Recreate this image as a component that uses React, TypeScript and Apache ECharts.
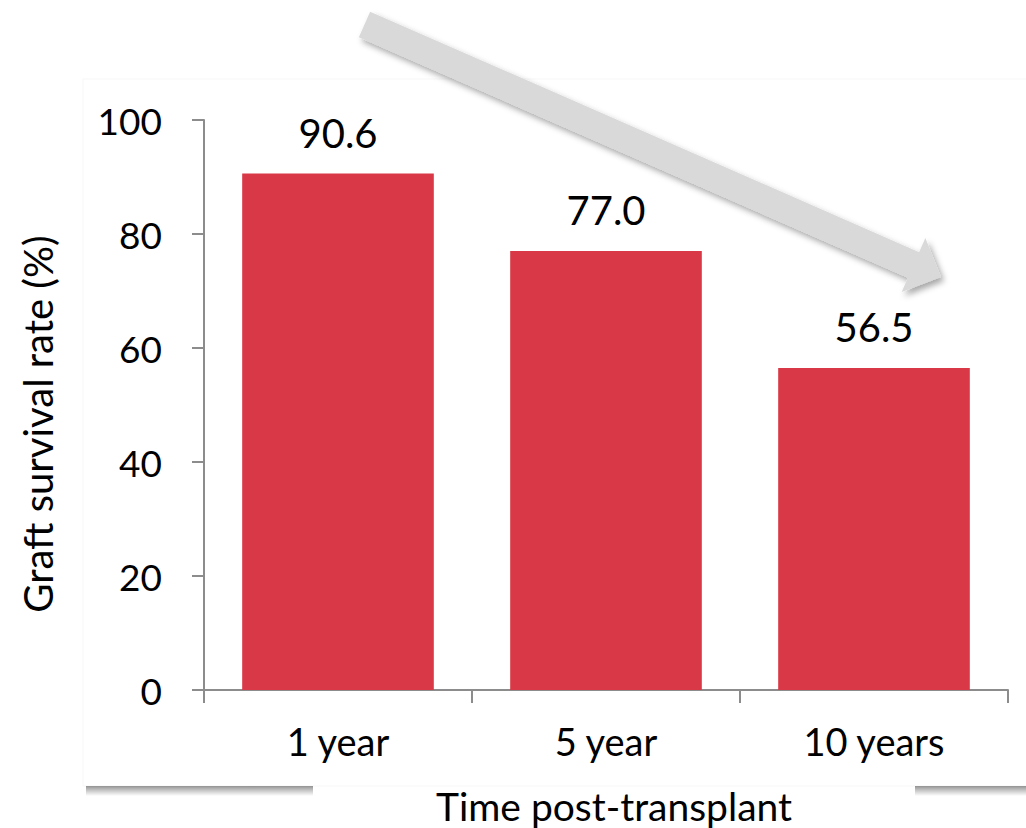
import React, { useEffect, useRef } from "react";
import * as echarts from "echarts";

// Graft survival by time after transplant
const categories: string[] = ["1 year", "5 year", "10 years"];
const survivalRates: number[] = [90.6, 77.0, 56.5];
const yTicks = { min: 0, max: 100, interval: 20 };

const BAR_COLOR = "#d93846";
const AXIS_COLOR = "#8c8c8c";
const FONT = "Lato";

// Build the downward trend arrow as a polygon from tail to tip
function arrowPoints(
  tail: [number, number],
  tip: [number, number],
  shaftHalf: number,
  headHalf: number,
  headLen: number
): number[][] {
  const dx = tip[0] - tail[0];
  const dy = tip[1] - tail[1];
  const len = Math.hypot(dx, dy);
  const ux = dx / len;
  const uy = dy / len;
  const nx = -uy;
  const ny = ux;
  const bx = tip[0] - ux * headLen;
  const by = tip[1] - uy * headLen;
  return [
    [tail[0] + nx * shaftHalf, tail[1] + ny * shaftHalf],
    [bx + nx * shaftHalf, by + ny * shaftHalf],
    [bx + nx * headHalf, by + ny * headHalf],
    [tip[0], tip[1]],
    [bx - nx * headHalf, by - ny * headHalf],
    [bx - nx * shaftHalf, by - ny * shaftHalf],
    [tail[0] - nx * shaftHalf, tail[1] - ny * shaftHalf],
  ];
}

const bottomShadow = (x: number, width: number) => ({
  type: "rect",
  z: -9,
  shape: { x, y: 786, width, height: 10 },
  style: {
    fill: new echarts.graphic.LinearGradient(0, 0, 0, 1, [
      { offset: 0, color: "rgba(0,0,0,0.42)" },
      { offset: 0.45, color: "rgba(0,0,0,0.22)" },
      { offset: 1, color: "rgba(0,0,0,0)" },
    ]),
  },
});

export default function App() {
  const ref = useRef<HTMLDivElement>(null);

  useEffect(() => {
    if (!ref.current) return;
    const chart = echarts.init(ref.current, null, { renderer: "svg" });

    chart.setOption({
      animation: false,
      backgroundColor: "#ffffff",
      grid: { left: 204, right: 18, top: 120, bottom: 138 },
      xAxis: {
        type: "category",
        data: categories,
        axisLine: { show: true, lineStyle: { color: AXIS_COLOR, width: 2 } },
        axisTick: {
          show: true,
          alignWithLabel: false,
          length: 13,
          lineStyle: { color: AXIS_COLOR, width: 2 },
        },
        axisLabel: {
          margin: 32,
          color: "#000000",
          fontFamily: FONT,
          fontSize: 38,
        },
      },
      yAxis: {
        type: "value",
        min: yTicks.min,
        max: yTicks.max,
        interval: yTicks.interval,
        splitLine: { show: false },
        axisLine: { show: true, lineStyle: { color: AXIS_COLOR, width: 2 } },
        axisTick: {
          show: true,
          length: 12,
          lineStyle: { color: AXIS_COLOR, width: 2 },
        },
        axisLabel: {
          margin: 42,
          color: "#000000",
          fontFamily: FONT,
          fontSize: 37,
        },
      },
      series: [
        {
          type: "bar",
          data: survivalRates,
          barCategoryGap: "28.5%",
          itemStyle: { color: BAR_COLOR },
          label: {
            show: true,
            position: "top",
            distance: 21,
            color: "#000000",
            fontFamily: FONT,
            fontSize: 40,
            formatter: (p: any) => Number(p.value).toFixed(1),
          },
          z: 3,
        },
      ],
      graphic: [
        // plot panel
        {
          type: "rect",
          z: -10,
          shape: { x: 83, y: 79, width: 960, height: 707 },
          style: { fill: "#ffffff", stroke: "#f7f7f7", lineWidth: 1 },
        },
        // panel shadow along the bottom, broken by the axis title
        bottomShadow(86, 227),
        bottomShadow(915, 111),
        {
          type: "text",
          z: 10,
          x: 614,
          y: 806,
          style: {
            text: "Time post-transplant",
            fontFamily: FONT,
            fontSize: 39,
            fill: "#000000",
            align: "center",
            verticalAlign: "middle",
          },
        },
        {
          type: "text",
          z: 10,
          x: 38,
          y: 424,
          rotation: Math.PI / 2,
          style: {
            text: "Graft survival rate (%)",
            fontFamily: FONT,
            fontSize: 40,
            fill: "#000000",
            align: "center",
            verticalAlign: "middle",
          },
        },
        // declining-trend arrow
        {
          type: "polygon",
          z: 20,
          shape: {
            points: arrowPoints([364.5, 24.5], [941, 277], 14, 29.5, 30),
          },
          style: {
            fill: "#d9d9d9",
            shadowBlur: 6,
            shadowOffsetX: 3,
            shadowOffsetY: 4,
            shadowColor: "rgba(0,0,0,0.35)",
          },
        },
      ],
    });

    return () => chart.dispose();
  }, []);

  return (
    <div
      ref={ref}
      style={{ position: "absolute", left: 0, top: 0, width: 1026, height: 828 }}
    />
  );
}
